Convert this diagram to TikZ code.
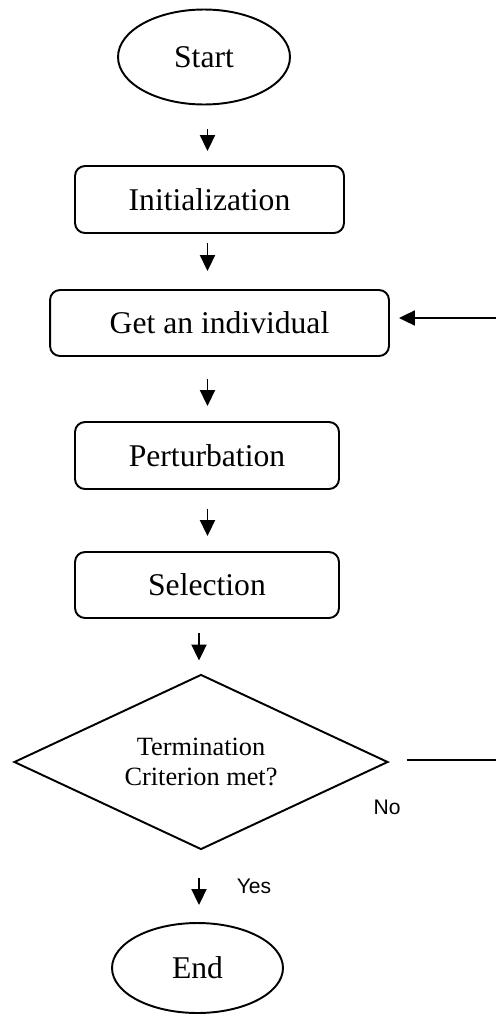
\documentclass[tikz,border=0pt]{standalone}
\usepackage{fontspec}
\setmainfont{Liberation Serif}
\setsansfont{Liberation Sans}
\usetikzlibrary{arrows.meta,shapes.geometric}

\begin{document}
\begin{tikzpicture}[x=0.02cm,y=-0.02cm,line width=1.1pt,
  boxtxt/.style={font=\fontsize{18}{21.6}\selectfont},
  procbox/.style={boxtxt,draw,rounded corners=0.2cm,inner sep=0pt},
  termnode/.style={boxtxt,draw,ellipse,inner sep=0pt},
  decnode/.style={draw,diamond,aspect=2.14,inner sep=0pt,align=center,
                  font=\fontsize{15}{17.5}\selectfont},
  lbl/.style={font=\sffamily\fontsize{12}{14}\selectfont,inner sep=0pt},
  flow/.style={-{Triangle[length=0.32cm,width=0.3cm]}}]
  \useasboundingbox (0,0) rectangle (496,1014);

  % flow chart nodes
  \node[termnode,minimum width=3.44cm,minimum height=1.9cm] (start) at (204,57) {Start};
  \node[procbox,minimum width=5.38cm,minimum height=1.34cm] (init) at (209.5,199.5) {Initialization};
  \node[procbox,minimum width=6.78cm,minimum height=1.32cm] (get) at (219.5,323) {Get an individual};
  \node[procbox,minimum width=5.28cm,minimum height=1.34cm] (pert) at (207,455.5) {Perturbation};
  \node[procbox,minimum width=5.28cm,minimum height=1.32cm] (sel) at (207,585) {Selection};
  \node[decnode,minimum width=7.48cm,minimum height=3.5cm] (term) at (201,762)
       {Termination\\Criterion met?};
  \node[termnode,minimum width=3.42cm,minimum height=1.8cm] (stop) at (197.5,968) {End};

  % arrow columns and loop ends
  \coordinate (spineA) at (207.5,0);
  \coordinate (spineB) at (199,0);
  \coordinate (fbout) at (496,760);
  \coordinate (fbin) at (496,318);

  % arrows
  \draw[flow,shorten <=0.48cm,shorten >=0.28cm] (start.south -| spineA) -- (init.north -| spineA);
  \draw[flow,shorten <=0.18cm,shorten >=0.36cm] (init.south -| spineA) -- (get.north -| spineA);
  \draw[flow,shorten <=0.44cm,shorten >=0.30cm] (get.south -| spineA) -- (pert.north -| spineA);
  \draw[flow,shorten <=0.38cm,shorten >=0.30cm] (pert.south -| spineA) -- (sel.north -| spineA);
  \draw[flow,shorten <=0.28cm,shorten >=0.26cm] (sel.south -| spineB) -- (term.north -| spineB);
  \draw[flow,shorten <=0.56cm,shorten >=0.34cm] (term.south -| spineB) -- (stop.north -| spineB);

  % loop back
  \draw[shorten <=0.36cm] (fbout -| term.east) -- (fbout);
  \draw[flow,shorten >=0.18cm] (fbin) -- (fbin -| get.east);

  % labels
  \node[lbl] (nolbl) at (387,807) {No};
  \node[lbl] (yeslbl) at (254,886) {Yes};
\end{tikzpicture}
\end{document}
